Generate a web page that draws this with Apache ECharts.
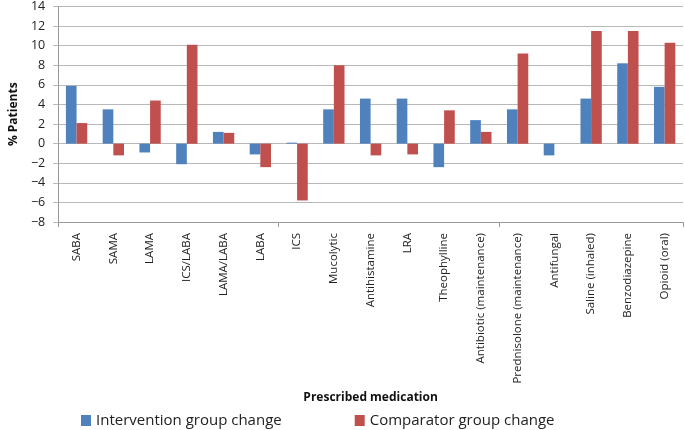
<!DOCTYPE html>
<html><head><meta charset="utf-8">
<script src="https://cdn.jsdelivr.net/npm/echarts@6/dist/echarts.min.js"></script>
<style>html,body{margin:0;padding:0;background:#fff}#c{width:685px;height:430px}</style>
</head><body><div id="c"></div>
<script>
const categories = ["SABA","SAMA","LAMA","ICS/LABA","LAMA/LABA","LABA","ICS","Mucolytic","Antihistamine","LRA","Theophylline","Antibiotic (maintenance)","Prednisolone (maintenance)","Antifungal","Saline (inhaled)","Benzodiazepine","Opioid (oral)"];
const intervention = [5.9,3.5,-0.9,-2.1,1.2,-1.1,0.1,3.5,4.6,4.6,-2.4,2.4,3.5,-1.2,4.6,8.2,5.8];
const comparator = [2.1,-1.2,4.4,10.1,1.1,-2.4,-5.8,8.0,-1.2,-1.1,3.4,1.2,9.2,0,11.5,11.5,10.3];
const seriesNames = ["Intervention group change","Comparator group change"];
const yTicks = {min:-8,max:14,interval:2};

const chart = echarts.init(document.getElementById('c'));
const font = "'Open Sans', sans-serif";
chart.setOption({
  animation:false,
  textStyle:{fontFamily:font},
  grid:{left:48,right:2,top:4,bottom:208},
  legend:{
    top:408, left:76, itemGap:73, itemWidth:10, itemHeight:11, icon:'rect',
    textStyle:{fontSize:15,color:'#222',fontFamily:font},
    data:seriesNames
  },
  xAxis:[{
    type:'category', data:categories, position:'bottom',
    axisLine:{show:false}, axisTick:{show:false},
    axisLabel:{rotate:90,fontSize:11.5,color:'#222',margin:11,interval:0},
    name:'Prescribed medication', nameLocation:'middle', nameGap:162,
    nameTextStyle:{fontWeight:'bold',fontSize:12,color:'#111'}
  },{
    type:'category', data:categories, position:'bottom',
    axisLine:{show:true,onZero:true,lineStyle:{color:'#999'}},
    axisTick:{show:true,length:5,lineStyle:{color:'#999'}},
    axisLabel:{show:false}
  }],
  yAxis:{
    type:'value', min:yTicks.min, max:yTicks.max, interval:yTicks.interval,
    axisLine:{show:true,lineStyle:{color:'#999'}},
    axisTick:{show:true,length:5,lineStyle:{color:'#b8b8b8'}},
    splitLine:{lineStyle:{color:'#b8b8b8'}},
    axisLabel:{fontSize:12.5,color:'#222',margin:13,formatter:v=>String(v).replace('-','\u2212')},
    name:'% Patients', nameLocation:'middle', nameGap:38,
    nameTextStyle:{fontWeight:'bold',fontSize:12,color:'#111'}
  },
  series:[{
    name:seriesNames[0], type:'bar', data:intervention, xAxisIndex:0,
    barWidth:'29%', barGap:'0%',
    itemStyle:{color:'#4f81bd'}
  },{
    name:seriesNames[1], type:'bar', data:comparator, xAxisIndex:0,
    barWidth:'29%', barGap:'0%',
    itemStyle:{color:'#c0504d'}
  }]
});
</script></body></html>
